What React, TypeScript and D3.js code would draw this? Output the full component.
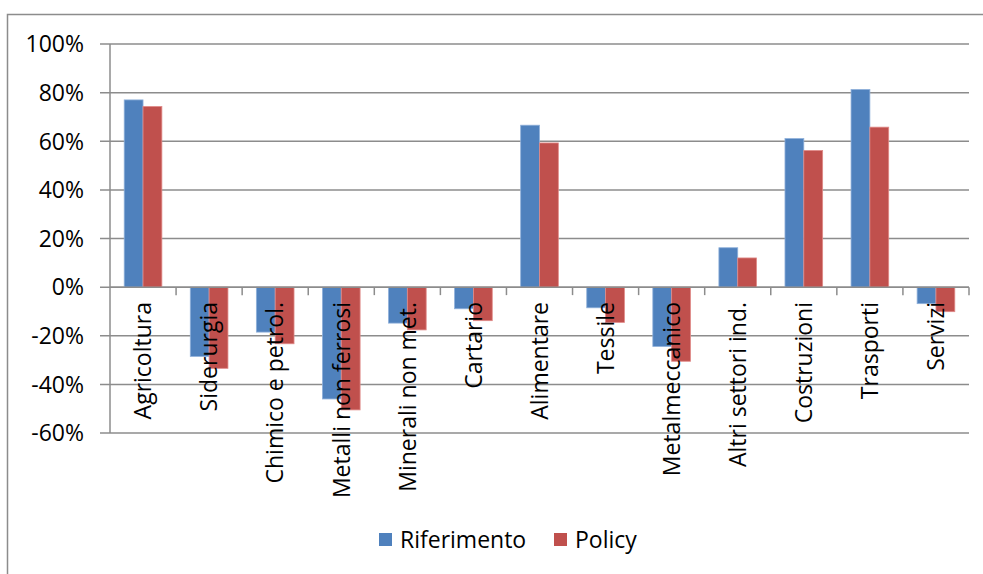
import React from "react";
import * as d3 from "d3";

const categories = [
  "Agricoltura",
  "Siderurgia",
  "Chimico e petrol.",
  "Metalli non ferrosi",
  "Minerali non met.",
  "Cartario",
  "Alimentare",
  "Tessile",
  "Metalmeccanico",
  "Altri settori ind.",
  "Costruzioni",
  "Trasporti",
  "Servizi",
];

const riferimento = [0.77, -0.285, -0.185, -0.46, -0.148, -0.089, 0.666, -0.085, -0.244, 0.162, 0.611, 0.813, -0.068];
const policy = [0.743, -0.334, -0.233, -0.505, -0.176, -0.138, 0.593, -0.145, -0.305, 0.12, 0.562, 0.658, -0.101];

const seriesNames = ["Riferimento", "Policy"];
const seriesColors = ["#4F81BD", "#C0504D"];
const seriesEdges = ["#8FB0DA", "#E08A88"];

const yTicks = [-0.6, -0.4, -0.2, 0, 0.2, 0.4, 0.6, 0.8, 1.0];

const W = 983;
const H = 574;
const FONT = "'Open Sans', 'Liberation Sans', sans-serif";
const GRID = "#8C8C8C";
const FS = 23;

// percent labels with a plain hyphen for negatives
const fmt = (v: number) => `${Math.round(v * 100)}%`;

export default function App() {
  const x = d3.scaleBand<string>().domain(categories).range([110, 969]).padding(0);
  const y = d3.scaleLinear().domain([-0.6, 1.0]).range([433, 44]);
  const bw = x.bandwidth();
  const groupW = bw * 0.57;
  const barW = groupW / 2;
  const offset = (bw - groupW) / 2;
  const series = [riferimento, policy];

  return (
    <svg
      width={W}
      height={H}
      style={{ position: "fixed", left: 0, top: 0, background: "#fff" }}
      fontFamily={FONT}
    >
      <rect x={0} y={0} width={W} height={H} fill="#fff" />
      {/* chart frame */}
      <path d={`M7.5,${H + 5} L7.5,14.5 L${W + 5},14.5`} fill="none" stroke={GRID} strokeWidth={1.5} />

      {/* gridlines */}
      {yTicks.map((t) => (
        <line key={`g${t}`} x1={100} x2={969} y1={y(t)} y2={y(t)} stroke={GRID} strokeWidth={1.5} />
      ))}

      {/* y axis labels */}
      {yTicks.map((t) => (
        <text key={`l${t}`} x={84} y={y(t)} dy="0.36em" textAnchor="end" fontSize={FS} fill="#000">
          {fmt(t)}
        </text>
      ))}

      {/* bars */}
      {series.map((vals, si) =>
        vals.map((v, i) => {
          const x0 = (x(categories[i]) as number) + offset + si * barW;
          const y0 = Math.min(y(v), y(0));
          const h = Math.abs(y(v) - y(0));
          return (
            <rect
              key={`b${si}-${i}`}
              x={x0}
              y={y0}
              width={barW}
              height={h}
              fill={seriesColors[si]}
              stroke={seriesEdges[si]}
              strokeWidth={0.8}
            />
          );
        })
      )}

      {/* axes */}
      <line x1={110} x2={110} y1={44} y2={433} stroke={GRID} strokeWidth={1.5} />
      <line x1={110} x2={969} y1={y(0)} y2={y(0)} stroke={GRID} strokeWidth={1.5} />
      {categories.map((c, i) => {
        const xx = (x(c) as number) + bw;
        return <line key={`t${i}`} x1={xx} x2={xx} y1={y(0)} y2={y(0) + 8} stroke={GRID} strokeWidth={1.5} />;
      })}

      {/* category labels */}
      {categories.map((c) => {
        const cx = (x(c) as number) + bw / 2;
        const cy = 302;
        return (
          <text
            key={`c${c}`}
            transform={`translate(${cx},${cy}) rotate(-90)`}
            textAnchor="end"
            dy="0.36em"
            fontSize={FS}
            fill="#000"
          >
            {c}
          </text>
        );
      })}

      {/* legend */}
      {seriesNames.map((n, i) => {
        const lx = [379, 554][i];
        return (
          <g key={`lg${n}`}>
            <rect x={lx} y={533} width={13} height={13} fill={seriesColors[i]} />
            <text x={lx + 21} y={540} dy="0.36em" fontSize={FS} fill="#000">
              {n}
            </text>
          </g>
        );
      })}
    </svg>
  );
}
